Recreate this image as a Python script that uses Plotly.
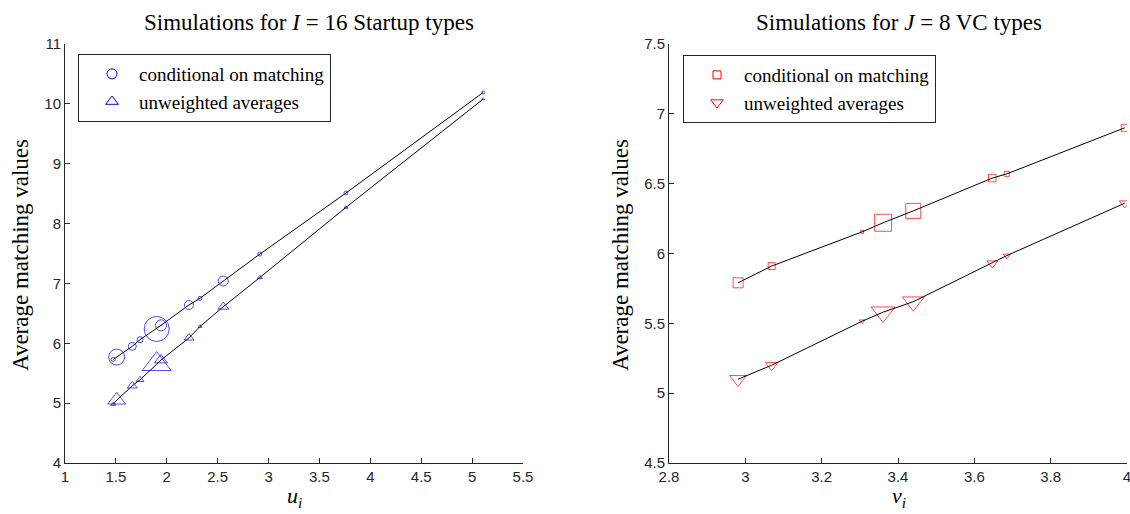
import plotly.graph_objects as go
from plotly.subplots import make_subplots

# ---------------- data ----------------
# Left panel: I = 16 startup types
u_vals = [1.474, 1.508, 1.661, 1.737, 1.901, 1.943, 2.218, 2.326, 2.555, 2.915, 3.760, 5.109]
startup_cond = [5.73, 5.77, 5.95, 6.06, 6.24, 6.30, 6.64, 6.75, 7.04, 7.49, 8.51, 10.19]
startup_unw = [4.98, 5.05, 5.29, 5.39, 5.65, 5.72, 6.09, 6.28, 6.61, 7.10, 8.27, 10.08]
startup_cond_weight = [4, 16, 8, 6, 25, 11, 9, 4, 10, 4, 4, 3]
startup_unw_weight = [5, 18, 10, 8, 29, 13, 10, 4, 11, 5, 4, 3]

# Right panel: J = 8 VC types
v_vals = [2.981, 3.069, 3.306, 3.361, 3.440, 3.647, 3.685, 3.994]
vc_cond = [5.79, 5.91, 6.155, 6.22, 6.305, 6.54, 6.57, 6.90]
vc_unw = [5.10, 5.20, 5.515, 5.58, 5.655, 5.93, 5.985, 6.36]
vc_cond_weight = [10, 7, 3, 17, 15, 7.5, 5, 7]
vc_unw_weight = [17, 12.7, 6, 24, 22, 11, 7, 11]

left_xticks = [1, 1.5, 2, 2.5, 3, 3.5, 4, 4.5, 5, 5.5]
left_yticks = [4, 5, 6, 7, 8, 9, 10, 11]
right_xticks = [2.8, 3, 3.2, 3.4, 3.6, 3.8, 4]
right_yticks = [4.5, 5, 5.5, 6, 6.5, 7, 7.5]

# ---------------- styling ----------------
BLUE = "rgb(0,0,255)"
RED = "rgb(255,0,0)"
AX = "#262626"
SERIF = "Liberation Serif"
SANS = "Liberation Sans"

W, H = 1130, 514
ML, MR, MT, MB = 0, 0, 44, 51
PW = W - ML - MR
PH = H - MT - MB


def px(x_px):
    return (x_px - ML) / PW


def py(y_px):
    return 1 - (y_px - MT) / PH


fig = make_subplots(rows=1, cols=2)


def tri_size(w):
    # plotly triangle width = 1.155 * size
    return [x / 1.155 for x in w]


# left markers
fig.add_trace(go.Scatter(x=u_vals, y=startup_cond, mode="markers", showlegend=False,
                         marker=dict(symbol="circle-open", size=startup_cond_weight, color=BLUE,
                                     line=dict(width=1, color=BLUE))), row=1, col=1)
fig.add_trace(go.Scatter(x=u_vals, y=startup_unw, mode="markers", showlegend=False,
                         marker=dict(symbol="triangle-up-open", size=tri_size(startup_unw_weight), color=BLUE,
                                     line=dict(width=1, color=BLUE))), row=1, col=1)
# left lines
fig.add_trace(go.Scatter(x=u_vals, y=startup_cond, mode="lines", showlegend=False,
                         line=dict(color="black", width=1)), row=1, col=1)
fig.add_trace(go.Scatter(x=u_vals, y=startup_unw, mode="lines", showlegend=False,
                         line=dict(color="black", width=1)), row=1, col=1)

# right markers
fig.add_trace(go.Scatter(x=v_vals, y=vc_cond, mode="markers", showlegend=False,
                         marker=dict(symbol="square-open", size=vc_cond_weight, color=RED,
                                     line=dict(width=1, color=RED))), row=1, col=2)
fig.add_trace(go.Scatter(x=v_vals, y=vc_unw, mode="markers", showlegend=False,
                         marker=dict(symbol="triangle-down-open", size=tri_size(vc_unw_weight), color=RED,
                                     line=dict(width=1, color=RED))), row=1, col=2)
fig.add_trace(go.Scatter(x=v_vals, y=vc_cond, mode="lines", showlegend=False,
                         line=dict(color="black", width=1)), row=1, col=2)
fig.add_trace(go.Scatter(x=v_vals, y=vc_unw, mode="lines", showlegend=False,
                         line=dict(color="black", width=1)), row=1, col=2)

# legend entries
fig.add_trace(go.Scatter(x=[None], y=[None], mode="markers", name="conditional on matching",
                         legend="legend",
                         marker=dict(symbol="circle-open", size=10, color=BLUE, line=dict(width=1, color=BLUE))),
              row=1, col=1)
fig.add_trace(go.Scatter(x=[None], y=[None], mode="markers", name="unweighted averages",
                         legend="legend",
                         marker=dict(symbol="triangle-up-open", size=11, color=BLUE, line=dict(width=1, color=BLUE))),
              row=1, col=1)
fig.add_trace(go.Scatter(x=[None], y=[None], mode="markers", name="conditional on matching",
                         legend="legend2",
                         marker=dict(symbol="square-open", size=8, color=RED, line=dict(width=1, color=RED))),
              row=1, col=2)
fig.add_trace(go.Scatter(x=[None], y=[None], mode="markers", name="unweighted averages",
                         legend="legend2",
                         marker=dict(symbol="triangle-down-open", size=11, color=RED, line=dict(width=1, color=RED))),
              row=1, col=2)

axis_common = dict(showline=True, linecolor=AX, linewidth=1, ticks="inside", ticklen=5,
                   tickcolor=AX, tickwidth=1, showgrid=False, zeroline=False, mirror=False,
                   automargin=False, ticklabeloverflow="allow",
                   tickfont=dict(family=SANS, size=15, color=AX))

fig.update_xaxes(domain=[px(65), px(523)], range=[1, 5.5], tickvals=left_xticks,
                 ticktext=[f"{t:g}" for t in left_xticks], **axis_common, row=1, col=1)
fig.update_yaxes(domain=[0, 1], range=[4, 11], tickvals=left_yticks,
                 ticktext=[f"{t:g}" for t in left_yticks], **axis_common, row=1, col=1)
fig.update_xaxes(domain=[px(669), px(1127)], range=[2.8, 4], tickvals=right_xticks,
                 ticktext=[f"{t:g}" for t in right_xticks], **axis_common, row=1, col=2)
fig.update_yaxes(domain=[0, 1], range=[4.5, 7.5], tickvals=right_yticks,
                 ticktext=[f"{t:g}" for t in right_yticks], **axis_common, row=1, col=2)

legend_common = dict(bgcolor="white", bordercolor=AX, borderwidth=1,
                     font=dict(family=SERIF, size=19, color="black"),
                     xanchor="left", yanchor="top", tracegroupgap=0, indentation=6,
                     itemwidth=44, itemsizing="trace")

fig.update_layout(
    width=W, height=H,
    margin=dict(l=ML, r=MR, t=MT, b=MB, autoexpand=False),
    paper_bgcolor="white", plot_bgcolor="white",
    legend=dict(x=px(78), y=py(54), **legend_common),
    legend2=dict(x=px(683), y=py(55), **legend_common),
)

ann = [
    dict(text="Simulations for <i>I</i> = 16 Startup types", x=px(309), y=py(22), size=23),
    dict(text="Simulations for <i>J</i> = 8 VC types", x=px(898.5), y=py(22), size=23),
    dict(text="<i>u<sub>i</sub></i>", x=px(294), y=py(497), size=22),
    dict(text="<i>v<sub>i</sub></i>", x=px(898.5), y=py(497), size=22),
]
for a in ann:
    fig.add_annotation(xref="paper", yref="paper", showarrow=False, xanchor="center", yanchor="middle",
                       text=a["text"], x=a["x"], y=a["y"],
                       font=dict(family=SERIF, size=a["size"], color="black"))
for xc in (20, 620):
    fig.add_annotation(xref="paper", yref="paper", x=px(xc), y=py(255), text="Average matching values",
                       textangle=-90, showarrow=False, xanchor="center", yanchor="middle",
                       font=dict(family=SERIF, size=23, color="black"))

fig.write_html("out.html",
               config={"displayModeBar": False},
               post_script="document.body.style.margin='0px';document.body.style.overflow='hidden';")
